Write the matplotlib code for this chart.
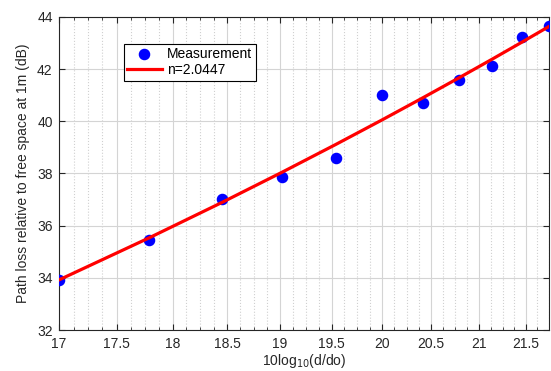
import matplotlib
matplotlib.use("Agg")
import matplotlib.pyplot as plt
import matplotlib.ticker as mticker
import numpy as np

plt.rcParams['font.family'] = ['Liberation Sans', 'DejaVu Sans']

# measured points: 10log10(d/do) vs path loss relative to free space at 1 m
x_meas = [17.0, 17.79, 18.455, 19.02, 19.54, 20.0, 20.42, 20.79, 21.14, 21.46, 21.75]
y_meas = [33.9, 35.45, 37.02, 37.85, 38.6, 41.02, 40.7, 41.57, 42.13, 43.22, 43.67]

n_exp = 2.0447
pl0 = 33.92
xticks = [17, 17.5, 18, 18.5, 19, 19.5, 20, 20.5, 21, 21.5]
yticks = [32, 34, 36, 38, 40, 42, 44]

x_fit = np.array(x_meas)
y_fit = pl0 + n_exp * (x_fit - x_fit[0])

fig = plt.figure(figsize=(5.51, 3.71), dpi=100)
ax = fig.add_axes([0.107, 0.1105, 0.889, 0.8437])
gray = '#262626'

ax.plot(x_meas, y_meas, 'o', color='#0000ff', markersize=7.3, label='Measurement', zorder=3)
ax.plot(x_fit, y_fit, '-', color='#ff0000', linewidth=2.3, label='n=%.4f' % n_exp, zorder=4)

ax.set_xscale('log')
ax.set_xlim(17, 21.75)
ax.set_ylim(32, 44)
ax.xaxis.set_major_locator(mticker.FixedLocator(xticks))
ax.xaxis.set_major_formatter(mticker.FixedFormatter([('%g' % t) for t in xticks]))
ax.xaxis.set_minor_locator(mticker.FixedLocator(np.arange(17, 21.76, 0.125)))
ax.xaxis.set_minor_formatter(mticker.NullFormatter())
ax.set_yticks(yticks)

ax.grid(True, which='major', color='#d4d4d4', linewidth=0.8)
ax.grid(True, which='minor', axis='x', color='#d0d0d0', linestyle=':', linewidth=0.8)
ax.set_axisbelow(True)

ax.tick_params(which='both', direction='in', top=True, right=True, colors=gray, labelsize=10)
ax.tick_params(which='major', length=4)
ax.tick_params(which='minor', length=2)
ax.tick_params(axis='x', which='major', pad=5)
ax.tick_params(axis='y', which='major', pad=4.5)
for s in ax.spines.values():
    s.set_color(gray)
    s.set_linewidth(0.8)

ax.set_xlabel('10log$_{10}$(d/do)', fontsize=10, color=gray, labelpad=1)
ax.set_ylabel('Path loss relative to free space at 1m (dB)', fontsize=10, color=gray, labelpad=5)

leg = ax.legend(loc='upper left', bbox_to_anchor=(124 / 551, 1 - 44 / 371),
                bbox_transform=fig.transFigure, fontsize=10, fancybox=False,
                framealpha=1, edgecolor='black', handlelength=2.45, borderpad=0.25,
                labelspacing=0.12, handletextpad=0.4, borderaxespad=0)
leg.get_frame().set_linewidth(0.8)

fig.savefig('out.png', dpi=100)
